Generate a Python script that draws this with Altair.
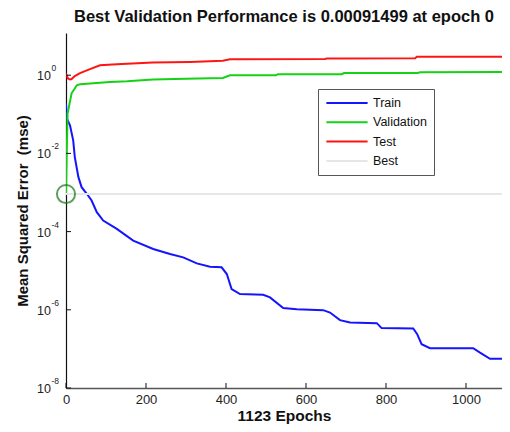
import altair as alt
import pandas as pd

# ---- data ----
train_epoch = [0, 2, 10, 18, 22, 31, 39, 52, 64, 77, 93, 127, 168, 218, 260, 293, 327, 360, 389,
               402, 414, 435, 493, 510, 543, 577, 643, 660, 685, 710, 777, 789, 868, 878, 889,
               910, 1018, 1035, 1060, 1110]
train_mse = [0.188, 0.0789, 0.0522, 0.0215, 0.00804, 0.00247, 0.00137, 0.000927, 0.000624,
             0.000313, 0.000191, 0.000117, 5.88e-5, 3.6e-5, 2.68e-5, 2.19e-5, 1.54e-5, 1.27e-5,
             1.22e-5, 8.2e-6, 3.4e-6, 2.53e-6, 2.43e-6, 2.07e-6, 1.11e-6, 1.04e-6, 9.8e-7, 8.5e-7,
             5.44e-7, 4.72e-7, 4.56e-7, 3.4e-7, 3.32e-7, 2.38e-7, 1.32e-7, 1.04e-7, 1.04e-7,
             8.0e-8, 5.6e-8, 5.6e-8]

val_epoch = [0, 2, 4, 14, 27, 35, 60, 110, 153, 218, 300, 392, 410, 525, 530, 690, 695, 880, 885, 1110]
val_mse = [0.000915, 0.012, 0.106, 0.345, 0.554, 0.588, 0.613, 0.673, 0.70, 0.776, 0.81, 0.853,
           1.0, 1.0, 1.06, 1.06, 1.146, 1.146, 1.19, 1.21]

test_epoch = [0, 5, 10, 14, 22, 35, 60, 85, 127, 217, 310, 392, 410, 648, 652, 873, 877, 1110]
test_mse = [1.1, 0.82, 0.78, 0.80, 0.95, 1.125, 1.426, 1.80, 1.91, 2.12, 2.19, 2.33, 2.57, 2.60,
            2.69, 2.72, 2.95, 2.95]

best_epoch = 0
best_mse = 0.00091499
best_line_epoch = [0, 1110]

series_names = ["Train", "Validation", "Test", "Best"]
series_colors = ["#1414ff", "#14d214", "#ff1414", "#e4e8e4"]

x_ticks = [0, 200, 400, 600, 800, 1000]
y_ticks = [1, 1e-2, 1e-4, 1e-6, 1e-8]
y_exponents = ["0", "-2", "-4", "-6", "-8"]

# ---- tables ----
rows = []
for n, ep, vals in [("Train", train_epoch, train_mse),
                    ("Validation", val_epoch, val_mse),
                    ("Test", test_epoch, test_mse),
                    ("Best", best_line_epoch, [best_mse] * len(best_line_epoch))]:
    for e, v in zip(ep, vals):
        rows.append({"series": n, "epoch": e, "value": v})
lines_df = pd.DataFrame(rows)
best_df = pd.DataFrame({"epoch": [best_epoch], "value": [best_mse]})
xt_df = pd.DataFrame({"epoch": x_ticks})
yt_df = pd.DataFrame({"value": y_ticks, "exp": y_exponents})

W, H = 436, 355
FONT = "Liberation Sans"

X = alt.X("epoch:Q",
          scale=alt.Scale(domain=[0, 1090], nice=False, zero=False),
          axis=alt.Axis(values=x_ticks, format="d", ticks=False, grid=False, labelPadding=5,
                        labelFontSize=13, labelColor="#222", domainColor="#555",
                        domainWidth=1.5, title="1123 Epochs", titleFontSize=15.5,
                        titleFontWeight="bold", titlePadding=2, titleColor="#111",
                        labelFlush=False))
Y = alt.Y("value:Q",
          scale=alt.Scale(type="log", domain=[1e-8, 12], nice=False),
          axis=alt.Axis(labels=False, ticks=False, grid=False, domainColor="#111",
                        domainWidth=1.2, title="Mean Squared Error\u00a0\u00a0(mse)",
                        titleFontSize=15, titleFontWeight="bold", titlePadding=36,
                        titleColor="#111"))

lines = alt.Chart(lines_df).mark_line(strokeWidth=2, clip=True).encode(
    x=X, y=Y,
    color=alt.Color("series:N",
                    scale=alt.Scale(domain=series_names, range=series_colors),
                    sort=series_names,
                    legend=alt.Legend(title=None, orient="none", legendX=252, legendY=56,
                                      symbolType="stroke", symbolSize=1700,
                                      symbolStrokeWidth=2, clipHeight=14, rowPadding=5.3,
                                      labelFontSize=12.5, labelFont=FONT, labelColor="#111",
                                      labelOffset=4, padding=7,
                                      strokeColor="#555", fillColor="white")),
    order=alt.Order("epoch:Q"),
)

circle = alt.Chart(best_df).mark_point(shape="circle", size=330, filled=False,
                                       color="#1a761a", strokeWidth=2).encode(x=X, y=Y)

ytick_rules = alt.Chart(yt_df).mark_rule(color="#111", strokeWidth=1).encode(
    y=Y, x=alt.value(0), x2=alt.value(5))
xtick_rules = alt.Chart(xt_df).mark_rule(color="#111", strokeWidth=1).encode(
    x=X, y=alt.value(H), y2=alt.value(H - 5))

ylab_base = alt.Chart(yt_df).mark_text(align="right", baseline="middle", fontSize=12.5,
                                       font=FONT, color="#222", dy=1).encode(
    y=Y, x=alt.value(-15), text=alt.value("10"))
ylab_exp = alt.Chart(yt_df).mark_text(align="left", baseline="middle", fontSize=8.5,
                                      font=FONT, color="#222", dy=-7).encode(
    y=Y, x=alt.value(-14.5), text="exp:N")

chart = alt.layer(lines, circle, ytick_rules, xtick_rules, ylab_base, ylab_exp).properties(
    width=W, height=H,
    autosize=alt.AutoSizeParams(type="none"),
    padding={"left": 58, "top": 25, "right": 0, "bottom": 36},
    title=alt.TitleParams("Best Validation Performance is 0.00091499 at epoch 0",
                          fontSize=16.5, fontWeight="bold", font=FONT, color="#111",
                          anchor="middle", offset=8),
).configure_view(stroke=None).configure_axis(labelFont=FONT, titleFont=FONT)

chart.save("out.html", embed_options={"renderer": "svg", "actions": False})
